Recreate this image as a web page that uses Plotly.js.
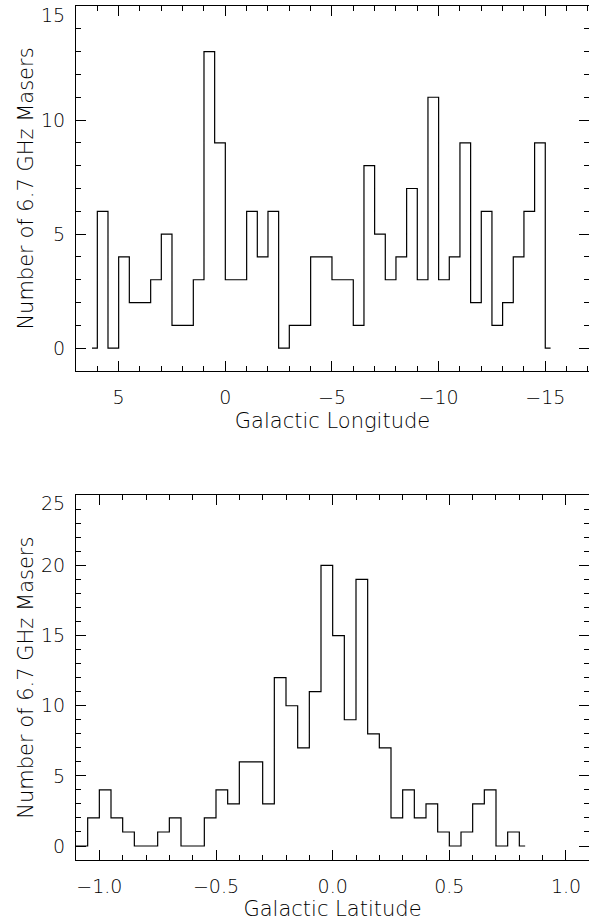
<!DOCTYPE html>
<html>
<head>
<meta charset="utf-8">
<script src="https://cdn.plot.ly/plotly-3.0.1.min.js"></script>
<style>
html,body{margin:0;padding:0;background:#fff;overflow:hidden;}
#chart{width:589px;height:922px;}
</style>
</head>
<body>
<div id="chart"></div>
<script>
// Galactic longitude histogram (bin centres, counts)
const lonCenters = [6.25, 5.75, 5.25, 4.75, 4.25, 3.75, 3.25, 2.75, 2.25, 1.75, 1.25, 0.75, 0.25, -0.25, -0.75, -1.25, -1.75, -2.25, -2.75, -3.25, -3.75, -4.25, -4.75, -5.25, -5.75, -6.25, -6.75, -7.25, -7.75, -8.25, -8.75, -9.25, -9.75, -10.25, -10.75, -11.25, -11.75, -12.25, -12.75, -13.25, -13.75, -14.25, -14.75, -15.25];
const lonCounts = [0, 6, 0, 4, 2, 2, 3, 5, 1, 1, 3, 13, 9, 3, 3, 6, 4, 6, 0, 1, 1, 4, 4, 3, 3, 1, 8, 5, 3, 4, 7, 3, 11, 3, 4, 9, 2, 6, 1, 2, 4, 6, 9, 0];

// Galactic latitude histogram (bin centres, counts)
const latCenters = [-1.125, -1.075, -1.025, -0.975, -0.925, -0.875, -0.825, -0.775, -0.725, -0.675, -0.625, -0.575, -0.525, -0.475, -0.425, -0.375, -0.325, -0.275, -0.225, -0.175, -0.125, -0.075, -0.025, 0.025, 0.075, 0.125, 0.175, 0.225, 0.275, 0.325, 0.375, 0.425, 0.475, 0.525, 0.575, 0.625, 0.675, 0.725, 0.775, 0.825];
const latCounts = [0, 0, 2, 4, 2, 1, 0, 0, 1, 2, 0, 0, 2, 4, 3, 6, 6, 3, 12, 10, 7, 11, 20, 15, 9, 19, 8, 7, 2, 4, 2, 3, 1, 0, 1, 3, 4, 0, 1, 0];

const lonTicks = [5, 0, -5, -10, -15];
const latTicks = [-1.0, -0.5, 0.0, 0.5, 1.0];
const countTicksTop = [0, 5, 10];
const countTopLabel = 15;
const countTicksBottom = [0, 5, 10, 15, 20];
const countBottomLabel = 25;
const yTitle = 'Number of 6.7 GHz Masers';

const TICKFONT = {family: '"DejaVu Sans", sans-serif', size: 19, color: '#000', weight: 200};
const TITLEFONT = {family: '"DejaVu Sans", sans-serif', size: 21, color: '#000', weight: 200};

const traces = [
  {x: lonCenters, y: lonCounts, type: 'scatter', mode: 'lines',
   line: {shape: 'hvh', color: '#000', width: 1.2}, xaxis: 'x', yaxis: 'y', hoverinfo: 'skip'},
  {x: latCenters, y: latCounts, type: 'scatter', mode: 'lines',
   line: {shape: 'hvh', color: '#000', width: 1.2}, xaxis: 'x2', yaxis: 'y2', hoverinfo: 'skip'}
];

function axisBase() {
  return {
    showgrid: false, zeroline: false, showline: true, linecolor: '#000', linewidth: 1,
    mirror: 'ticks', ticks: 'inside', ticklen: 10, tickwidth: 1, tickcolor: '#000',
    tickfont: TICKFONT, automargin: false, fixedrange: true
  };
}

const layout = {
  width: 589, height: 922,
  margin: {l: 76, r: 0, t: 0, b: 0},
  paper_bgcolor: '#fff', plot_bgcolor: '#fff',
  showlegend: false,
  font: TICKFONT,
  xaxis: Object.assign(axisBase(), {
    domain: [0, 1], anchor: 'y', range: [7, -17.05],
    tickmode: 'array', tickvals: lonTicks, ticklabelstandoff: 9,
    minor: {dtick: 1, ticklen: 5, ticks: 'inside', tickcolor: '#000'},
    title: {text: 'Galactic Longitude', font: TITLEFONT, standoff: 6}
  }),
  yaxis: Object.assign(axisBase(), {
    domain: [0.5976, 0.9935], anchor: 'x', range: [-1, 15],
    tickmode: 'array', tickvals: countTicksTop, ticklabelstandoff: 6,
    minor: {tickmode: 'linear', tick0: 0, dtick: 1, ticklen: 5, ticks: 'inside', tickcolor: '#000'},
    title: {text: yTitle, font: TITLEFONT, standoff: 1}
  }),
  xaxis2: Object.assign(axisBase(), {
    domain: [0, 1], anchor: 'y2', range: [-1.1, 1.0986],
    tickmode: 'array', tickvals: latTicks, tickformat: '.1f', ticklabelstandoff: 9,
    minor: {dtick: 0.1, ticklen: 5, ticks: 'inside', tickcolor: '#000'},
    title: {text: 'Galactic Latitude', font: TITLEFONT, standoff: 4}
  }),
  yaxis2: Object.assign(axisBase(), {
    domain: [0.0672, 0.4628], anchor: 'x2', range: [-1, 25],
    tickmode: 'array', tickvals: countTicksBottom, ticklabelstandoff: 6,
    minor: {tickmode: 'linear', tick0: 0, dtick: 1, ticklen: 5, ticks: 'inside', tickcolor: '#000'},
    title: {text: yTitle, font: TITLEFONT, standoff: 1}
  }),
  annotations: [
    {xref: 'paper', x: 0, yref: 'y', y: countTopLabel, text: String(countTopLabel),
     showarrow: false, xanchor: 'right', yanchor: 'middle', xshift: -9, yshift: -9, font: TICKFONT},
    {xref: 'paper', x: 0, yref: 'y2', y: countBottomLabel, text: String(countBottomLabel),
     showarrow: false, xanchor: 'right', yanchor: 'middle', xshift: -9, yshift: -8, font: TICKFONT}
  ]
};

// the top ticks (15 and 25) still need tick marks: add them as major ticks via minor grid already at every 1;
// extend major tick set for marks only
layout.yaxis.tickvals = countTicksTop.concat([countTopLabel]);
layout.yaxis.ticktext = countTicksTop.map(String).concat(['']);
layout.yaxis2.tickvals = countTicksBottom.concat([countBottomLabel]);
layout.yaxis2.ticktext = countTicksBottom.map(String).concat(['']);

Plotly.newPlot('chart', traces, layout, {staticPlot: true, displayModeBar: false});
</script>
</body>
</html>
